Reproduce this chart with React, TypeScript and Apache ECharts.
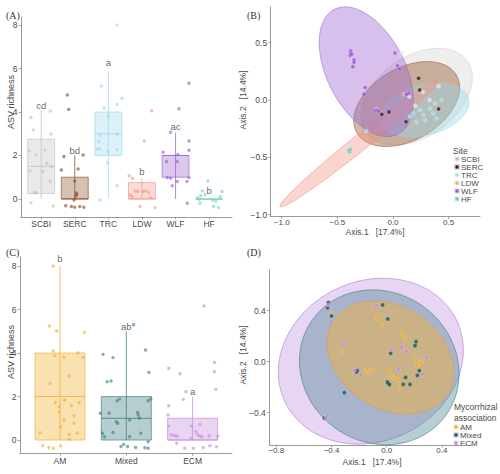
import React, { useEffect, useRef } from 'react';
import * as echarts from 'echarts';

const FONT = '"Liberation Sans", Arial, sans-serif';
const SERIF = '"Liberation Serif", "DejaVu Serif", serif';
const TXT = '#4a4a4a';
const AXC = '#8f8f8f';

// ---------- Panel A: ASV richness by site ----------
const siteNames = ['SCBI', 'SERC', 'TRC', 'LDW', 'WLF', 'HF'];
const siteColors = ['#c2c2c2', '#8a4f2a', '#9fd8ea', '#f29a8a', '#9a62cf', '#74d4b0'];
// [lower whisker, q1, median, q3, upper whisker]
const siteBoxStats = [
  [0, 0.25, 1.5, 2.75, 4.1],
  [0, 0, 0, 1, 2],
  [0, 2, 3, 4, 5.85],
  [0, 0, 0, 0.75, 0.95],
  [0, 1, 2, 2, 3.05],
  [0, 0, 0, 0, 0],
];
const siteLetters = ['cd', 'bd', 'a', 'b', 'ac', 'b'];
const siteLetterY = [4.28, 2.23, 6.28, 1.27, 3.33, 0.41];
// jittered points: [offset from category, richness]
const scbiPts = [[-0.3, 3.75], [-0.23, 3.17], [0.27, 4.05], [0.29, 2.99], [0.11, 2.25], [-0.35, 2.2], [-0.15, 2.02], [0.17, 1.64], [0.05, 1.26], [-0.33, 1.3], [0.27, 0.8], [-0.2, 0.3], [-0.15, 0.27], [-0.3, -0.17], [0.36, -0.32], [0.3, 1.5]];
const sercPts = [[-0.22, 4.78], [-0.18, 4.12], [-0.32, 1.95], [0.25, 2.02], [0.1, 1.38], [-0.4, 1.33], [0.0, 0.82], [0.05, 0.27], [0.03, 0.12], [-0.02, -0.05], [-0.27, -0.31], [-0.1, -0.35], [0.0, -0.38], [0.15, -0.35], [0.27, -0.38], [0.06, 0.2]];
const trcPts = [[0.26, 8.0], [-0.21, 5.2], [0.41, 4.63], [0.26, 4.35], [-0.12, 4.18], [0.0, 3.79], [-0.24, 2.94], [0.26, 2.99], [-0.29, 2.64], [-0.26, 2.3], [-0.33, 2.3], [-0.02, 2.18], [0.26, 2.27], [-0.02, 1.67], [0.26, 0.61], [-0.26, -0.05]];
const ldwPts = [[0.29, 4.06], [0.07, 2.67], [-0.38, 1.07], [-0.28, 0.95], [-0.2, 0.37], [-0.12, 0.34], [0.02, 0.34], [0.1, 0.37], [0.25, 0.06], [-0.35, 0.18], [-0.06, -0.35], [0.39, -0.4], [0.2, 0.3], [-0.3, 0.1]];
const wlfPts = [[0.4, 5.32], [0.1, 4.15], [-0.15, 3.07], [0.4, 2.67], [0.4, 2.24], [-0.37, 2.15], [0.07, 2.05], [-0.27, 1.72], [0.05, 1.72], [-0.25, 0.98], [-0.15, 0.95], [0.4, 0.98], [0.05, 0.8], [-0.1, 0.61], [0.34, 0.8], [0.35, -0.2]];
const hfPts = [[-0.04, 0.83], [-0.2, 0.37], [-0.3, -0.01], [-0.27, -0.2], [0.38, 0.34], [0.33, 0.1], [0.1, -0.05], [0.13, -0.35], [0.28, -0.4], [-0.25, 0.15], [-0.12, 0.2], [0.2, -0.1], [-0.35, 0.05]];
const sitePts = [scbiPts, sercPts, trcPts, ldwPts, wlfPts, hfPts];

// ---------- Panel B: PCoA by site ----------
// ellipse: [cx, cy, ux, uy, vx, vy] (centre + two conjugate semi-axis vectors, data units)
const siteEllipseSites = ['SCBI', 'SERC', 'TRC', 'LDW', 'WLF'];
const siteEllipses = [
  [0.213, 0.029, 0.456, 0.31, 0.206, -0.286],
  [0.123, -0.035, 0.447, 0.251, 0.162, -0.272],
  [0.288, -0.087, 0.391, 0.101, 0.058, -0.21],
  [-0.304, -0.378, 0.711, 0.552, 0.045, -0.054],
  [-0.24, 0.247, 0.286, -0.544, 0.312, 0.154],
];
const siteEllipseColors = ['#cfcfcf', '#96552a', '#95d6ea', '#f39484', '#9b64cf'];
const bScbi = [[0.078, 0.41], [0.147, 0.03], [0.27, 0.07], [0.41, 0.12], [0.33, 0.0], [0.2, -0.05]];
const bSerc = [[0.23, 0.19], [0.24, 0.087], [0.41, -0.078], [-0.1, -0.125], [-0.036, -0.105], [0.117, -0.19]];
const bTrc = [[0.153, -0.145], [0.213, -0.19], [0.243, -0.087], [0.273, -0.131], [0.332, -0.073], [0.362, -0.116], [0.377, -0.029], [0.288, -0.174], [0.183, -0.116], [-0.24, -0.27], [0.437, 0.0], [0.39, -0.16]];
const bLdw = [[-0.15, -0.08], [0.1, 0.05]];
const bWlf = [[-0.38, 0.43], [-0.38, 0.41], [-0.385, 0.39], [-0.37, 0.4], [-0.35, 0.35], [-0.35, 0.33], [-0.36, 0.29], [-0.25, 0.11], [-0.26, 0.05], [0.018, 0.41], [0.04, 0.3], [0.06, 0.27], [-0.16, -0.09], [-0.145, -0.09], [-0.13, -0.095], [0.14, 0.06], [0.12, 0.05]];
const bHf = [[-0.4, -0.44], [-0.39, -0.45], [-0.38, -0.43]];
const bPts = [bScbi, bSerc, bTrc, bLdw, bWlf, bHf];
const bPtColors = ['#e4e4e4', '#3b1d0c', '#a6e0ef', '#f5a596', '#9a55d6', '#66cfb0'];

// ---------- Panel C: ASV richness by mycorrhizal association ----------
const mycoNames = ['AM', 'Mixed', 'ECM'];
const mycoColors = ['#f2b135', '#3f7f80', '#c48fd9'];
const mycoBoxStats = [
  [0, 0, 2, 4, 8],
  [0, 0, 1, 2, 5],
  [0, 0, 0, 1, 2],
];
const mycoLetters = ['b', 'ab', 'a'];
const mycoLetterY = [8.35, 5.22, 2.22];
const amPts = [[-0.1, 8.0], [-0.16, 5.24], [-0.05, 5.01], [0.37, 4.95], [-0.1, 4.1], [-0.08, 3.88], [0.06, 3.8], [0.27, 4.02], [0.35, 3.8], [0.14, 2.94], [-0.15, 2.6], [-0.07, 1.73], [0.07, 1.84], [0.29, 1.73], [-0.01, 1.53], [0.17, 1.58], [-0.01, 1.3], [0.21, 1.12], [0.06, 0.92], [0.01, 0.61], [0.21, 0.77], [-0.3, 0.34], [0.14, 0.26], [0.26, 0.31], [0.14, 0.03], [-0.26, -0.26], [-0.17, -0.34], [-0.1, -0.38], [0.01, -0.26]];
const mixedPts = [[-0.35, 3.94], [-0.2, 3.79], [-0.29, 2.68], [-0.23, 2.71], [-0.14, 1.81], [-0.1, 1.88], [-0.39, 1.23], [-0.26, 1.23], [-0.15, 0.84], [-0.13, 0.77], [-0.36, 0.31], [-0.33, 0.15], [-0.08, -0.3], [-0.04, -0.2], [0.29, 4.14], [0.34, 3.11], [0.37, 1.89], [0.33, 1.81], [0.17, 1.27], [0.18, 1.15], [0.05, 0.92], [0.22, 0.31], [0.05, 0.15], [0.33, -0.08], [0.28, -0.35], [0.14, -0.34], [0.02, -0.3], [0.33, -0.38], [0.11, 5.3], [0.2, 1.0], [-0.2, 0.35]];
const ecmPts = [[0.17, 6.16], [0.33, 3.57], [0.33, 3.14], [-0.36, 3.3], [-0.19, 3.05], [0.35, 2.33], [-0.1, 2.22], [-0.14, 1.87], [-0.36, 1.58], [-0.37, 1.15], [-0.36, 0.64], [-0.32, 0.23], [-0.27, 0.2], [-0.23, 0.18], [-0.02, 0.64], [0.11, 0.72], [0.05, 0.38], [0.08, 0.23], [0.11, 0.18], [0.14, 0.15], [-0.02, 0.08], [0.25, 0.2], [0.38, 0.18], [-0.24, -0.15], [-0.12, -0.38], [0.01, -0.38], [0.16, -0.35], [0.26, -0.26], [0.36, -0.31]];
const mycoPts = [amPts, mixedPts, ecmPts];

// ---------- Panel D: PCoA by mycorrhizal association ----------
const mycoEllipseOrder = ['ECM', 'Mixed', 'AM'];
const mycoEllipses = [
  [-0.115, 0.004, 0.624, 0.315, 0.245, -0.569],
  [-0.054, -0.044, 0.487, -0.369, -0.312, -0.482],
  [0.028, 0.033, 0.413, -0.29, -0.201, -0.336],
];
const mycoEllipseFill = ['rgba(205,160,228,0.45)', 'rgba(61,129,140,0.38)', 'rgba(246,172,52,0.45)'];
const mycoEllipseStroke = ['#b98ad0', '#4f8a8f', '#d9a050'];
const dAm = [[-0.326, 0.078], [-0.068, 0.34], [-0.036, 0.293], [0.109, 0.223], [0.133, 0.183], [0.205, 0.027], [0.254, 0.0], [0.222, -0.034], [-0.133, -0.078], [-0.097, -0.06], [0.012, -0.06], [0.048, -0.122], [0.084, -0.144], [0.101, -0.196], [0.246, -0.008], [0.036, -0.112], [-0.145, -0.065], [0.055, -0.13], [-0.4, 0.38]];
const dMixed = [[-0.423, 0.463], [-0.428, 0.424], [-0.4, 0.358], [-0.03, 0.445], [0.007, 0.335], [0.212, 0.157], [0.205, 0.126], [0.029, 0.066], [-0.213, -0.07], [-0.22, -0.08], [0.236, -0.07], [0.222, -0.107], [0.137, -0.123], [0.01, -0.17], [0.02, -0.18], [0.005, -0.16], [0.12, -0.178], [0.169, -0.178], [-0.307, -0.243], [-0.452, -0.442]];
const dEcm = [[-0.423, 0.445], [-0.403, 0.314], [-0.078, 0.44], [-0.314, 0.139], [0.036, 0.092], [0.14, 0.084], [0.29, 0.031], [-0.235, -0.07], [-0.188, -0.099], [0.084, -0.06], [0.258, -0.096], [-0.43, -0.418], [-0.44, -0.44], [0.109, 0.113]];
const dPts = [dAm, dMixed, dEcm];
const dPtColors = ['#f0ad2c', '#1d5753', '#c389da'];

const axisTitleB = 'Axis.1   [17.4%]';
const axisTitleB2 = 'Axis.2   [14.4%]';

function rgba(hex: string, a: number) {
  const n = parseInt(hex.slice(1), 16);
  return `rgba(${(n >> 16) & 255},${(n >> 8) & 255},${n & 255},${a})`;
}

function fmtDec(v: number) {
  const s = Math.abs(v).toFixed(1);
  return v < -1e-9 ? '\u2212' + s : s;
}

function makeBoxRender(halfWidth: number, colors: string[], fillAlpha: number) {
  return (params: any, api: any) => {
    const x = api.value(0);
    const lo = api.value(1), q1 = api.value(2), md = api.value(3), q3 = api.value(4), hi = api.value(5);
    const c = colors[params.dataIndex];
    const pLo = api.coord([x, lo]);
    const pHi = api.coord([x, hi]);
    const tl = api.coord([x - halfWidth, q3]);
    const br = api.coord([x + halfWidth, q1]);
    const mL = api.coord([x - halfWidth, md]);
    const mR = api.coord([x + halfWidth, md]);
    return {
      type: 'group',
      children: [
        { type: 'line', shape: { x1: pLo[0], y1: pLo[1], x2: pHi[0], y2: pHi[1] }, style: { stroke: rgba(c, 0.85), lineWidth: 0.9 } },
        { type: 'rect', shape: { x: tl[0], y: tl[1], width: br[0] - tl[0], height: Math.max(br[1] - tl[1], 0.3) }, style: { fill: rgba(c, fillAlpha), stroke: rgba(c, 0.85), lineWidth: 0.8 } },
        { type: 'line', shape: { x1: mL[0], y1: mL[1], x2: mR[0], y2: mR[1] }, style: { stroke: rgba(c, 0.9), lineWidth: 0.9 } },
      ],
    };
  };
}

function makeEllipseRender(fills: string[], strokes: string[]) {
  return (params: any, api: any) => {
    const cx = api.value(0), cy = api.value(1), ux = api.value(2), uy = api.value(3), vx = api.value(4), vy = api.value(5);
    const pts: number[][] = [];
    for (let k = 0; k < 90; k++) {
      const t = (k / 90) * Math.PI * 2;
      pts.push(api.coord([cx + Math.cos(t) * ux + Math.sin(t) * vx, cy + Math.cos(t) * uy + Math.sin(t) * vy]));
    }
    return {
      type: 'polygon',
      shape: { points: pts },
      style: { fill: fills[params.dataIndex], stroke: strokes[params.dataIndex], lineWidth: 0.7 },
    };
  };
}

function valueAxis(gridIndex: number, min: number, max: number, ticks: number[], formatter: (v: number) => string, labelExtra: any = {}) {
  return {
    type: 'value',
    gridIndex,
    min,
    max,
    splitLine: { show: false },
    axisLine: { show: true, onZero: false, lineStyle: { color: AXC, width: 0.9 } },
    axisTick: { show: true, length: 2.5, customValues: ticks, lineStyle: { color: AXC, width: 0.8 } },
    axisLabel: { customValues: ticks, formatter, color: TXT, fontSize: 8.5, fontFamily: FONT, margin: 3.5, ...labelExtra },
  };
}

function legendBlock(x: number, yStart: number, step: number, labels: string[], colors: string[]) {
  const els: any[] = [];
  labels.forEach((lab, i) => {
    const y = yStart + i * step;
    els.push({ type: 'rect', shape: { x: x - 2.5, y: y - 2.5, width: 5, height: 5 }, style: { fill: rgba(colors[i], 0.35), stroke: 'none' } });
    els.push({ type: 'circle', shape: { cx: x, cy: y, r: 1.6 }, style: { fill: colors[i] } });
    els.push({ type: 'text', x: x + 4, y, style: { text: lab, fill: TXT, font: `8px ${FONT}`, lineHeight: 7, align: 'left', verticalAlign: 'middle' } });
  });
  return els;
}

export default function App() {
  const ref = useRef<HTMLDivElement>(null);

  useEffect(() => {
    document.body.style.margin = '0';
    if (!ref.current) return;
    const chart = echarts.init(ref.current, undefined, { renderer: 'svg' });

    const series: any[] = [];

    // Panel A
    series.push({
      type: 'custom', xAxisIndex: 0, yAxisIndex: 0, z: 1,
      renderItem: makeBoxRender(0.4, siteColors, 0.35),
      data: siteBoxStats.map((s, i) => [i, ...s]),
    });
    sitePts.forEach((pts, i) => {
      series.push({
        type: 'scatter', name: siteNames[i], xAxisIndex: 0, yAxisIndex: 0, z: 2,
        symbolSize: 3.4, itemStyle: { color: rgba(siteColors[i], 0.8) },
        data: pts.map(([dx, y]) => [i + dx, y]),
      });
    });
    series.push({
      type: 'scatter', xAxisIndex: 0, yAxisIndex: 0, z: 3, symbolSize: 1,
      itemStyle: { color: 'transparent' },
      label: { show: true, position: 'inside', formatter: '{b}', color: '#3a3a3a', fontSize: 9.5, fontFamily: FONT },
      data: siteLetters.map((l, i) => ({ name: l, value: [i, siteLetterY[i]] })),
    });

    // Panel B
    series.push({
      type: 'custom', xAxisIndex: 1, yAxisIndex: 1, z: 1,
      renderItem: makeEllipseRender(
        siteEllipseColors.map((c, i) => rgba(c, i === 0 ? 0.35 : i === 1 ? 0.42 : 0.4)),
        siteEllipseColors.map((c) => rgba(c, 0.8))
      ),
      data: siteEllipses,
    });
    bPts.forEach((pts, i) => {
      series.push({
        type: 'scatter', name: 'B-' + siteNames[i], xAxisIndex: 1, yAxisIndex: 1, z: 2,
        symbolSize: 4, itemStyle: { color: bPtColors[i], borderColor: 'rgba(255,255,255,0.6)', borderWidth: 0.5 },
        data: pts,
      });
    });

    // Panel C
    series.push({
      type: 'custom', xAxisIndex: 2, yAxisIndex: 2, z: 1,
      renderItem: makeBoxRender(0.377, mycoColors, 0.38),
      data: mycoBoxStats.map((s, i) => [i, ...s]),
    });
    mycoPts.forEach((pts, i) => {
      series.push({
        type: 'scatter', name: mycoNames[i], xAxisIndex: 2, yAxisIndex: 2, z: 2,
        symbolSize: 3.4, itemStyle: { color: rgba(mycoColors[i], 0.8) },
        data: pts.map(([dx, y]) => [i + dx, y]),
      });
    });
    series.push({
      type: 'scatter', xAxisIndex: 2, yAxisIndex: 2, z: 3, symbolSize: 1,
      itemStyle: { color: 'transparent' },
      label: { show: true, position: 'inside', formatter: '{b}', color: '#3a3a3a', fontSize: 9.5, fontFamily: FONT },
      data: mycoLetters.map((l, i) => ({ name: l, value: [i, mycoLetterY[i]] })),
    });

    // Panel D
    series.push({
      type: 'custom', xAxisIndex: 3, yAxisIndex: 3, z: 1,
      renderItem: makeEllipseRender(mycoEllipseFill, mycoEllipseStroke),
      data: mycoEllipses,
    });
    dPts.forEach((pts, i) => {
      series.push({
        type: 'scatter', name: 'D-' + mycoNames[i], xAxisIndex: 3, yAxisIndex: 3, z: 2,
        symbolSize: 4.2, itemStyle: { color: dPtColors[i], borderColor: 'rgba(255,255,255,0.5)', borderWidth: 0.5 },
        data: pts,
      });
    });

    const titleStyle = (text: string, size: number, align = 'center') => ({
      text, fill: TXT, font: `${size}px ${FONT}`, align, verticalAlign: 'middle',
    });

    const graphic: any[] = [
      { type: 'text', x: 6, y: 15, style: { text: '(A)', fill: '#333', font: `10px ${SERIF}`, align: 'left', verticalAlign: 'middle' } },
      { type: 'text', x: 247, y: 15, style: { text: '(B)', fill: '#333', font: `10px ${SERIF}`, align: 'left', verticalAlign: 'middle' } },
      { type: 'text', x: 6, y: 252, style: { text: '(C)', fill: '#333', font: `10px ${SERIF}`, align: 'left', verticalAlign: 'middle' } },
      { type: 'text', x: 247, y: 252, style: { text: '(D)', fill: '#333', font: `10px ${SERIF}`, align: 'left', verticalAlign: 'middle' } },
      { type: 'text', x: 11, y: 102, rotation: Math.PI / 2, style: titleStyle('ASV richness', 9) },
      { type: 'text', x: 11, y: 352, rotation: Math.PI / 2, style: titleStyle('ASV richness', 9) },
      { type: 'text', x: 243, y: 100, rotation: Math.PI / 2, style: titleStyle(axisTitleB2, 8.5) },
      { type: 'text', x: 243, y: 355, rotation: Math.PI / 2, style: titleStyle(axisTitleB2, 8.5) },
      { type: 'text', x: 375, y: 232, style: titleStyle(axisTitleB, 8.5) },
      { type: 'text', x: 372, y: 462, style: titleStyle(axisTitleB, 8.5) },
      { type: 'text', x: 453, y: 151, style: { ...titleStyle('Site', 8.5, 'left'), lineHeight: 8 } },
      ...legendBlock(457, 159, 8, siteNames, bPtColors.map((c, i) => (i === 0 ? '#bdbdbd' : c))),
      { type: 'text', x: 454, y: 407, style: { ...titleStyle('Mycorrhizal', 8.5, 'left'), lineHeight: 9 } },
      { type: 'text', x: 454, y: 418, style: { ...titleStyle('association', 8.5, 'left'), lineHeight: 9 } },
      ...legendBlock(456, 427, 8, mycoNames, dPtColors),
    ];

    chart.setOption({
      animation: false,
      backgroundColor: '#ffffff',
      textStyle: { fontFamily: FONT },
      grid: [
        { left: 21, top: 17, width: 211, height: 200 },
        { left: 270.7, top: 7, width: 209.3, height: 209.7 },
        { left: 20, top: 256.7, width: 212, height: 196.6 },
        { left: 269.3, top: 270, width: 203.4, height: 175 },
      ],
      xAxis: [
        valueAxis(0, -0.6, 5.68, [0, 1, 2, 3, 4, 5], (v) => siteNames[Math.round(v)] ?? '', { margin: 2 }),
        valueAxis(1, -1.099, 0.782, [-1, -0.5, 0, 0.5], fmtDec, { margin: 1.5, fontSize: 8 }),
        valueAxis(2, -0.603, 2.594, [0, 1, 2], (v) => mycoNames[Math.round(v)] ?? '', { margin: 3 }),
        valueAxis(3, -0.851, 0.623, [-0.8, -0.4, 0, 0.4], fmtDec, { margin: 1, fontSize: 8 }),
      ],
      yAxis: [
        valueAxis(0, -0.83, 8.37, [0, 2, 4, 6, 8], (v) => String(Math.round(v))),
        valueAxis(1, -1.017, 0.811, [-1, -0.5, 0, 0.5], fmtDec),
        valueAxis(2, -0.61, 8.43, [0, 2, 4, 6, 8], (v) => String(Math.round(v))),
        valueAxis(3, -0.653, 0.719, [-0.4, 0, 0.4], fmtDec),
      ],
      series,
      graphic,
    });

    return () => chart.dispose();
  }, []);

  return <div ref={ref} style={{ width: 500, height: 474 }} />;
}
